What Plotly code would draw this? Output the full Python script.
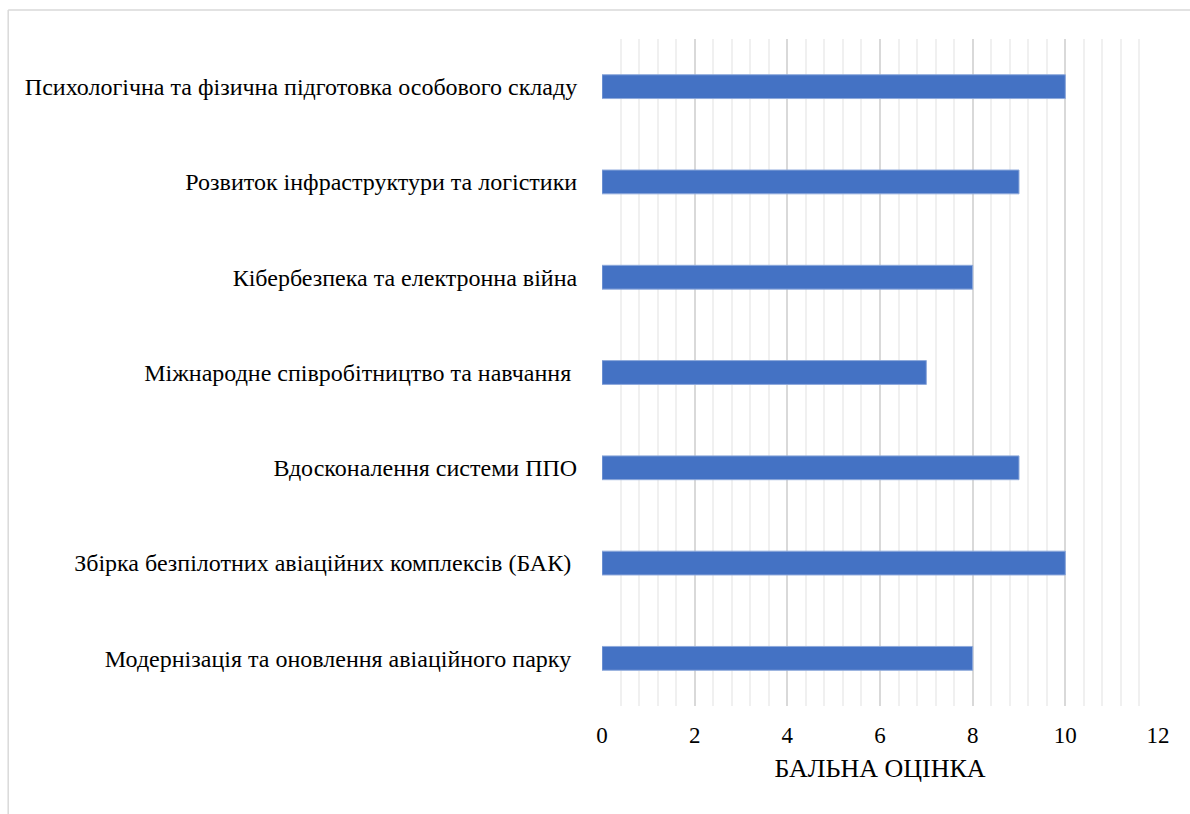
import plotly.graph_objects as go

categories = [
    "Модернізація та оновлення авіаційного парку\u00a0",
    "Збірка безпілотних авіаційних комплексів (БАК)\u00a0",
    "Вдосконалення системи ППО",
    "Міжнародне співробітництво та навчання\u00a0",
    "Кібербезпека та електронна війна",
    "Розвиток інфраструктури та логістики",
    "Психологічна та фізична підготовка особового складу",
]
scores = [8, 10, 9, 7, 8, 9, 10]
x_ticks = [0, 2, 4, 6, 8, 10, 12]

font_family = "Liberation Serif"

fig = go.Figure(
    go.Bar(
        x=scores,
        y=categories,
        orientation="h",
        marker=dict(color="#4472C4", line=dict(color="#8EA9DB", width=1)),
    )
)

grid_major = "#D9D9D9"
fig.update_layout(
    width=1190,
    height=814,
    margin=dict(l=602, r=32, t=39, b=108),
    paper_bgcolor="white",
    plot_bgcolor="white",
    bargap=0.75,
    showlegend=False,
    font=dict(family=font_family, size=24, color="#000000"),
    xaxis=dict(
        range=[0, 12],
        tickvals=x_ticks,
        ticktext=[str(v) for v in x_ticks],
        showgrid=True,
        gridcolor=grid_major,
        gridwidth=1.5,
        zeroline=False,
        showline=False,
        ticks="outside",
        ticklen=8,
        tickcolor="rgba(0,0,0,0)",
        tickfont=dict(family=font_family, size=23),
        minor=dict(dtick=0.4, showgrid=True, gridcolor="#F0F0F0", gridwidth=1.5),
        title=dict(text="БАЛЬНА ОЦІНКА", font=dict(family=font_family, size=26), standoff=12),
    ),
    yaxis=dict(
        showgrid=False,
        zeroline=False,
        showline=False,
        ticks="outside",
        ticklen=19,
        tickcolor="rgba(0,0,0,0)",
        tickfont=dict(family=font_family, size=24),
    ),
    shapes=[
        dict(type="line", xref="paper", yref="paper",
             x0=-1.068, x1=1.2, y0=1.0435, y1=1.0435,
             line=dict(color="#D9D9D9", width=1.5)),
        dict(type="line", xref="paper", yref="paper",
             x0=-1.068, x1=-1.068, y0=1.0435, y1=-0.2,
             line=dict(color="#D9D9D9", width=1.5)),
    ],
)

fig.write_html("out.html")
